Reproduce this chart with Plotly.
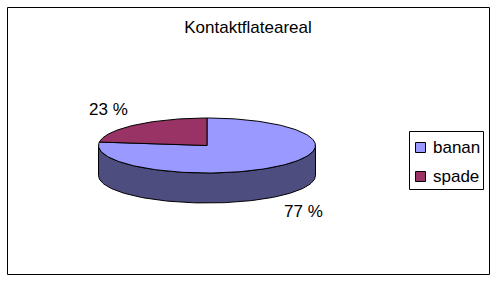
import numpy as np
import plotly.graph_objects as go

# ---- data ----
title = "Kontaktflateareal"
categories = ["banan", "spade"]
values = [77, 23]
top_colors = ["#9999FF", "#993366"]
side_colors = ["#4D4D80", "#4D1A33"]

# ---- geometry (pixel space of the 498x282 canvas) ----
W, H = 498, 282
cx, cy = 207.0, 145.5      # centre of top ellipse
rx, ry = 108.5, 27.5       # ellipse radii
depth = 30.0               # thickness of the 3D pie
FONT = "Liberation Sans, Arial, sans-serif"

def ell(theta_deg, dy=0.0):
    t = np.radians(theta_deg)
    return cx + rx * np.cos(t), cy - ry * np.sin(t) + dy

fig = go.Figure()

total = float(sum(values))
start = 90.0
slices = []
for cat, v in zip(categories, values):
    a0 = start
    a1 = start - 360.0 * v / total
    slices.append((cat, v, a0, a1))
    start = a1

# sides (front/lower half visible only)
for (cat, v, a0, a1), sc in zip(slices, side_colors):
    lo, hi = min(a0, a1), max(a0, a1)
    for k in range(-2, 2):
        s0, s1 = -180 + 360 * k, 360 * k
        p, q = max(lo, s0), min(hi, s1)
        if q - p > 0.01:
            th = np.linspace(p, q, 120)
            xt, yt = ell(th)
            xb, yb = ell(th[::-1], depth)
            xs = np.concatenate([xt, xb, xt[:1]])
            ys = np.concatenate([yt, yb, yt[:1]])
            fig.add_trace(go.Scatter(x=xs, y=ys, mode="lines", fill="toself",
                                     fillcolor=sc, line=dict(color="#000000", width=1),
                                     hoverinfo="skip", showlegend=False))

# top faces
for (cat, v, a0, a1), tc in zip(slices, top_colors):
    th = np.linspace(a0, a1, 200)
    xa, ya = ell(th)
    xs = np.concatenate([[cx], xa, [cx]])
    ys = np.concatenate([[cy], ya, [cy]])
    fig.add_trace(go.Scatter(x=xs, y=ys, mode="lines", fill="toself",
                             fillcolor=tc, line=dict(color="#000000", width=1),
                             name=cat, hoverinfo="skip", showlegend=False))

# data labels
label_pos = {"banan": (303, 211), "spade": (108.5, 109.5)}
for cat, v in zip(categories, values):
    lx, ly = label_pos[cat]
    fig.add_annotation(x=lx, y=ly, text=f"{v} %", showarrow=False,
                       xanchor="center", yanchor="middle",
                       font=dict(family=FONT, size=17, color="#000000"))

# legend (manual)
leg_y = [147.5, 176.5]
fig.add_trace(go.Scatter(x=[420.5] * len(categories), y=leg_y, mode="markers",
                         marker=dict(symbol="square", size=10, color=top_colors,
                                     line=dict(color="#000000", width=1)),
                         hoverinfo="skip", showlegend=False))
for cat, yy in zip(categories, leg_y):
    fig.add_annotation(x=431, y=yy, text=cat, showarrow=False,
                       xanchor="left", yanchor="middle",
                       font=dict(family=FONT, size=17, color="#000000"))

shapes = [
    dict(type="rect", xref="x", yref="y", x0=7.5, x1=489.5, y0=7.5, y1=274.5,
         line=dict(color="#000000", width=1), layer="below"),
    dict(type="rect", xref="x", yref="y", x0=409.5, x1=483.5, y0=131.5, y1=189.5,
         line=dict(color="#000000", width=1), layer="below"),
]

fig.update_layout(
    width=W, height=H,
    margin=dict(l=0, r=0, t=0, b=0),
    paper_bgcolor="white", plot_bgcolor="white",
    shapes=shapes,
    title=dict(text=title, x=248 / W, xanchor="center", y=1 - 26.7 / H,
               yanchor="middle", font=dict(family=FONT, size=17, color="#000000")),
    xaxis=dict(range=[0, W], visible=False, fixedrange=True),
    yaxis=dict(range=[H, 0], visible=False, fixedrange=True),
    showlegend=False,
)

fig.write_html("out.html")
